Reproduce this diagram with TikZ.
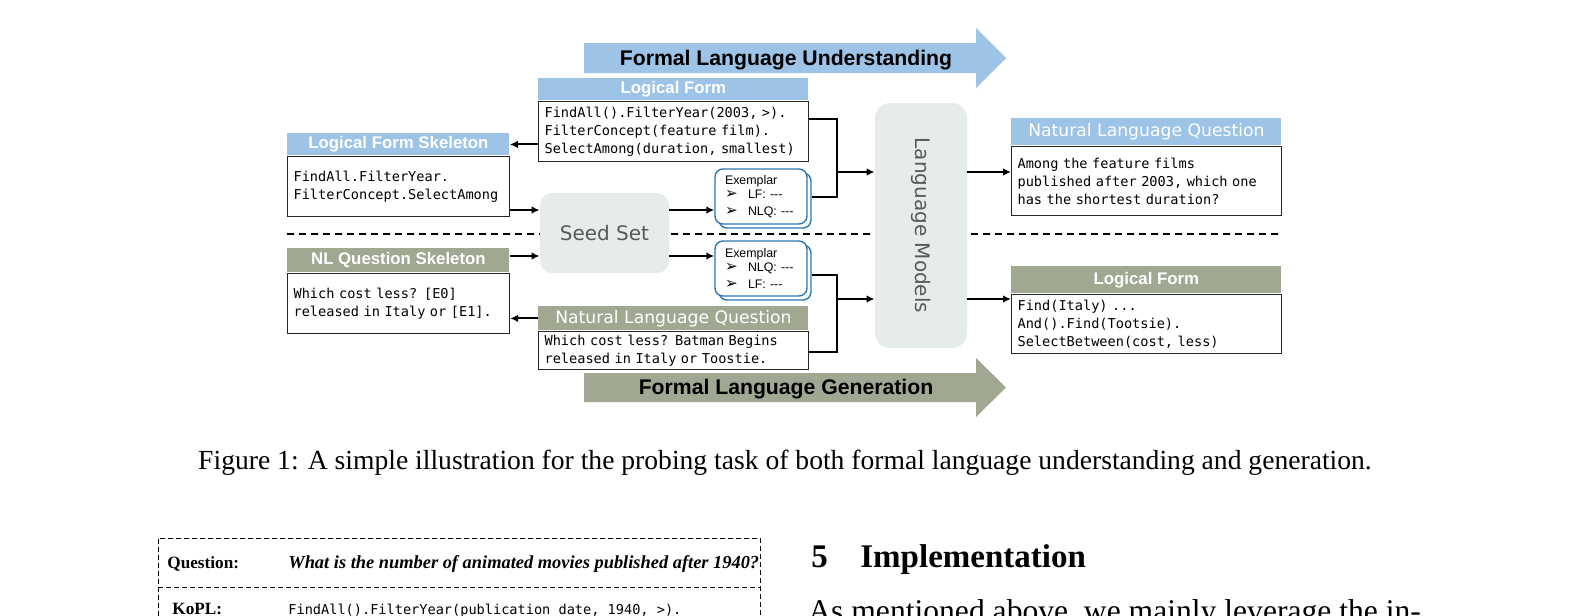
\documentclass[tikz,border=0pt]{standalone}
\usepackage{fontspec}
\usepackage{graphicx}
\usepackage{xcolor}
\usepackage{tikz}
\usetikzlibrary{arrows.meta}
\setmainfont{Liberation Serif}
\newfontfamily\arialfam{Liberation Sans}
\newfontfamily\verdfam{DejaVu Sans}
\newfontfamily\codefam{DejaVu Sans Mono}[WordSpace={1,0,0}]
\newcommand{\fTitre}{\arialfam\bfseries\fontsize{8.4}{10}\selectfont}
\newcommand{\fTitreFin}{\verdfam\fontsize{8.6}{10}\selectfont}
\newcommand{\fCode}{\codefam\fontsize{6.8}{9}\selectfont}
\newcommand{\fGros}{\arialfam\bfseries\fontsize{10.6}{12}\selectfont}
\newcommand{\fGris}{\verdfam\fontsize{10}{12}\selectfont}
\newcommand{\fEx}{\arialfam\fontsize{6.2}{7}\selectfont}
\newcommand{\fLegende}{\fontsize{13.8}{16}\selectfont}
\newcommand{\fCorps}{\fontsize{15.8}{19}\selectfont}
\newcommand{\fTable}{\fontsize{8.6}{10}\selectfont}
\newcommand{\fSection}{\bfseries\fontsize{16.5}{19}\selectfont}
\newcommand{\puce}{\makebox[11.5pt][l]{\verdfam\fontsize{7.6}{7}\selectfont ➢}}
\definecolor{bleuClair}{RGB}{157,195,230}
\definecolor{vertGris}{RGB}{160,168,146}
\definecolor{grisFond}{RGB}{230,236,234}
\definecolor{bleuBord}{RGB}{46,117,182}
\definecolor{grisTexte}{RGB}{89,89,89}
\tikzset{
Bandeau/.style={
 anchor=north west, 
 inner sep=0pt, 
 text=white, 
 minimum width=#1
 },
BandeauBleu/.style={Bandeau=#1, fill=bleuClair},
BandeauVert/.style={Bandeau=#1, fill=vertGris},
Boite/.style={
 anchor=north west, 
 draw=black!85, 
 line width=0.6pt, 
 font=\fCode, 
 align=left, 
 inner xsep=3pt, 
 inner ysep=0pt, 
 text width=#1
 },
Bloc/.style={
 fill=grisFond, 
 text=grisTexte, 
 font=\fGris, 
 rounded corners=#1, 
 inner sep=0pt
 },
Exemplaire/.style={
 draw=bleuBord, 
 line width=0.7pt, 
 fill=white, 
 rounded corners=4pt, 
 minimum width=46pt, 
 minimum height=27.5pt, 
 inner xsep=5pt, 
 inner ysep=0pt, 
 text width=36pt, 
 align=left, 
 font=\fEx
 },
Fleche/.style={
 draw=black, 
 line width=1pt, 
 -{Latex[length=4pt,width=3.8pt]}
 },
Trait/.style={draw=black, line width=1pt},
Pointille/.style={draw=black, line width=0.6pt, dash pattern=on 3.5pt off 2.5pt},
PointilleFin/.style={draw=black, line width=0.5pt, dash pattern=on 2.5pt off 1.5pt},
Texte/.style={anchor=base west, inner sep=0pt}
}
\begin{document}
\begin{tikzpicture}[x=0.5pt,y=-0.5pt]
\useasboundingbox (0,0) rectangle (1571,616);
% grandes fleches
\fill[bleuClair] (584,43) -- (976,43) -- (976,28) -- (1006,58) -- (976,88) -- (976,73) -- (584,73) -- cycle;
\node[font=\fGros, anchor=base] (titreComprehension) at (786,65.5) {Formal Language Understanding};
\fill[vertGris] (584,373) -- (976,373) -- (976,358) -- (1006,387.5) -- (976,417) -- (976,402) -- (584,402) -- cycle;
\node[font=\fGros, anchor=base] (titreGeneration) at (786,394.5) {Formal Language Generation};
\draw[Pointille] (287,234) -- (1280,234);
% colonne gauche
\node[BandeauBleu=111pt, minimum height=11pt, font=\fTitre] (lfsHead) at (287,133) {Logical Form Skeleton};
\node[Boite=105pt, minimum height=30pt] (lfsBox) at (lfsHead.south west) {FindAll.FilterYear.\\FilterConcept.SelectAmong};
\node[BandeauVert=111pt, minimum height=12pt, font=\fTitre] (nlqsHead) at (287,248) {NL Question Skeleton};
\node[Boite=105pt, minimum height=30pt] (nlqsBox) at (nlqsHead.south west) {Which cost less? [E0]\\\mbox{released in Italy or [E1].}};
% colonne du milieu
\node[BandeauBleu=135pt, minimum height=11pt, font=\fTitre] (lfHead) at (538,78) {Logical Form};
\node[Boite=129pt, minimum height=30pt] (lfBox) at (lfHead.south west) {FindAll().FilterYear(2003, >).\\FilterConcept(feature film).\\SelectAmong(duration, smallest)};
\node[BandeauVert=135pt, minimum height=12pt, font=\fTitreFin] (nlqHead) at (538,306) {Natural Language Question};
\node[Boite=129pt, minimum height=19pt] (nlqBox) at (nlqHead.south west) {Which cost less? Batman Begins\\released in Italy or Toostie.};
\node[Bloc=6pt, minimum width=64.5pt, minimum height=40pt] (seed) at (604.5,233) {Seed Set};
\node[Exemplaire] (exTopArr) at (765,200.5) {};
\node[Exemplaire] (exTop) at (761,196.5) {Exemplar\\\puce LF: -{}-{}-\\[1.2pt]\puce NLQ: -{}-{}-};
\node[Exemplaire] (exBotArr) at (765,272.5) {};
\node[Exemplaire] (exBot) at (761,268.5) {Exemplar\\\puce NLQ: -{}-{}-\\[1.2pt]\puce LF: -{}-{}-};
\node[Bloc=7.5pt, minimum width=46pt, minimum height=122.5pt] (lm) at (921,225.5) {\rotatebox{-90}{Language Models}};
% colonne droite
\node[BandeauBleu=135pt, minimum height=13.5pt, font=\fTitreFin] (nlqrHead) at (1011,118) {Natural Language Question};
\node[Boite=129pt, minimum height=34.5pt] (nlqrBox) at (nlqrHead.south west) {Among the feature films\\published after 2003, which one\\has the shortest duration?};
\node[BandeauVert=135pt, minimum height=13.5pt, font=\fTitre] (lfrHead) at (1011,266) {Logical Form};
\node[Boite=129pt, minimum height=29.5pt] (lfrBox) at (lfrHead.south west) {Find(Italy) ...\\And().Find(Tootsie).\\SelectBetween(cost, less)};
% liaisons
\coordinate (ligneA) at ([yshift=11.5pt]seed.center);
\coordinate (ligneB) at ([yshift=-11.5pt]seed.center);
\coordinate (jonctionH) at (837,172);
\coordinate (jonctionB) at (837,299);
\draw[Fleche] (lfBox.west |- lfsHead.east) -- (lfsHead.east);
\draw[Fleche] (ligneA -| lfsBox.east) -- (ligneA -| seed.west);
\draw[Fleche] (ligneA -| seed.east) -- (ligneA -| exTop.west);
\draw[Fleche] (ligneB -| nlqsHead.east) -- (ligneB -| seed.west);
\draw[Fleche] (ligneB -| seed.east) -- (ligneB -| exBot.west);
\draw[Fleche] (nlqHead.west) -- (nlqHead.west -| nlqsBox.east);
\draw[Trait] ([yshift=6pt]lfBox.east) -| (jonctionH);
\draw[Trait] ([yshift=2pt]exTopArr.east) -| (jonctionH);
\draw[Fleche] (jonctionH) -- (jonctionH -| lm.west);
\draw[Trait] ([yshift=-1pt]exBotArr.east) -| (jonctionB);
\draw[Trait] ([yshift=-1pt]nlqBox.east) -| (jonctionB);
\draw[Fleche] (jonctionB) -- (jonctionB -| lm.west);
\draw[Fleche] (jonctionH -| lm.east) -- (jonctionH -| nlqrBox.west);
\draw[Fleche] (jonctionB -| lm.east) -- (jonctionB -| lfrBox.west);
% legende et suite de la page
\node[font=\fLegende, anchor=base] (legende) at (785,469) {Figure 1: A simple illustration for the probing task of both formal language understanding and generation.};
\draw[PointilleFin] (158,640) -- (158,538) -- (760,538) -- (760,640);
\draw[PointilleFin] (158,587) -- (760,587);
\node[Texte, font=\fTable\bfseries] (etiqQuestion) at (167,568) {Question:};
\node[Texte, font=\fontsize{9.2}{11}\selectfont\bfseries\itshape] (texteQuestion) at (288,568) {What is the number of animated movies published after 1940?};
\node[Texte, font=\fTable\bfseries] (etiqKopl) at (172,614) {KoPL:};
\node[Texte, font=\fCode] (texteKopl) at (288,614) {FindAll().FilterYear(publication date, 1940, >).};
\node[Texte, font=\fSection] (numSection) at (811,567) {5};
\node[Texte, font=\fSection] (titreSection) at (860,567) {Implementation};
\node[Texte, font=\fCorps] (texteCorps) at (808,621) {As mentioned above, we mainly leverage the in-};
\end{tikzpicture}
\end{document}
